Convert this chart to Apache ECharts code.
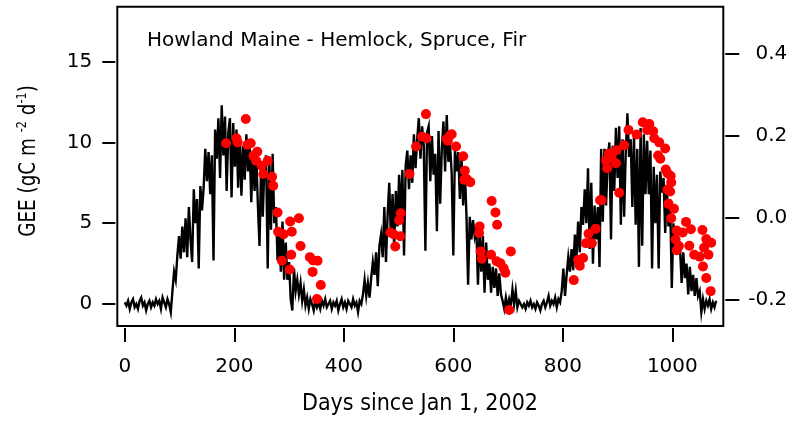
<!DOCTYPE html>
<html>
<head>
<meta charset="utf-8">
<script src="https://cdn.jsdelivr.net/npm/echarts@6/dist/echarts.min.js"></script>
<style>html,body{margin:0;padding:0;background:#fff}#c{width:792px;height:423px}</style>
</head>
<body>
<div id="c"></div>
<script>
// Daily GEE (gC m-2 d-1) as [day, value]
const geeDaily = [
[0,0.1],[3,-0.1],[6,0.2],[9,-0.3],[12,0.1],[15,0.3],[18,-0.2],[21,0.0],[24,-0.3],[27,0.2],[30,0.4],[33,-0.1],[36,0.1],[39,-0.4],[42,0.0],[45,0.2],[48,-0.2],[51,0.1],[54,-0.1],[57,0.3],[60,0.0],[63,0.2],[66,-0.3],[69,0.4],[72,0.1],[75,-0.2],[78,0.3],[81,0.0],[84,-0.5],
[87,0.8],[90,2.0],[93,1.5],[96,3.0],[99,4.2],[102,2.8],[105,4.8],[108,3.2],[111,5.3],[114,2.9],[117,6.0],[120,4.0],[123,2.6],[126,7.1],[129,5.0],[132,6.5],[135,2.2],[138,7.3],[141,5.8],[144,7.2],[147,9.6],[150,7.6],[153,9.4],[156,6.8],[159,9.2],[162,2.7],[165,10.8],[168,9.0],[171,11.5],[174,7.8],[177,12.3],[180,9.2],[183,11.6],[186,7.0],[189,10.6],[192,11.5],[195,6.6],[198,11.2],[201,8.5],[204,10.8],[207,7.2],[210,10.3],[213,6.7],[216,9.8],[219,7.7],[222,10.5],[225,8.2],[228,9.8],[231,6.3],[234,9.5],[237,7.0],[240,9.3],[243,6.2],[246,3.6],[249,8.7],[252,5.4],[255,8.6],[258,9.2],[261,2.2],[264,8.8],[267,4.6],[270,9.3],[273,5.0],[276,6.0],[279,2.7],[282,4.6],[285,2.0],[288,5.1],[291,1.5],[294,3.8],[297,1.5],[300,2.6],[303,0.3],[306,-0.4],[309,2.2],[312,0.8],[315,1.5],[318,0.6],[321,1.3],[324,0.2],[327,0.9],[330,-0.1],[333,0.4],[336,-0.3],[339,0.3],[342,0.0],[345,-0.4],[348,0.2],[351,-0.2],[354,0.1],[357,-0.3],[360,0.2],
[363,-0.1],[366,0.3],[369,-0.2],[372,0.0],[375,0.2],[378,-0.3],[381,0.1],[384,-0.1],[387,0.2],[390,-0.4],[393,0.0],[396,0.3],[399,-0.2],[402,0.1],[405,-0.3],[408,0.2],[411,0.0],[414,-0.2],[417,0.3],[420,-0.1],[423,0.1],[426,-0.5],[429,0.2],[432,0.0],
[435,0.6],[438,1.5],[441,0.5],[444,1.3],[447,0.4],[450,1.6],[453,2.6],[456,1.8],[459,3.2],[462,1.1],[465,3.6],[468,4.3],[471,2.9],[474,6.0],[477,2.6],[480,5.5],[483,7.5],[486,4.1],[489,6.8],[492,3.5],[495,7.0],[498,4.8],[501,8.0],[504,5.3],[507,8.3],[510,3.0],[513,8.6],[516,9.5],[519,7.1],[522,9.2],[525,7.5],[528,10.5],[531,8.4],[534,10.2],[537,11.5],[540,9.0],[543,11.0],[546,9.8],[549,3.3],[552,10.6],[555,11.0],[558,7.6],[561,10.4],[564,8.0],[567,9.3],[570,4.5],[573,10.7],[576,6.2],[579,9.6],[582,11.3],[585,8.2],[588,11.7],[591,8.8],[594,9.9],[597,8.1],[600,3.0],[603,9.6],[606,8.2],[609,9.4],[612,6.5],[615,9.0],[618,6.1],[621,8.3],[624,5.5],[627,1.2],[630,5.4],[633,4.0],[636,5.2],[639,4.2],[642,4.8],[645,1.2],[648,4.5],[651,2.0],[654,4.2],[657,0.7],[660,3.8],[663,1.5],[666,2.5],[669,0.7],[672,2.3],[675,1.0],[678,2.2],[681,0.5],[684,1.9],[687,0.6],[690,0.2],[693,-0.3],[696,0.4],[699,-0.2],[702,0.3],[705,-0.1],[708,0.9],[711,0.0],[714,0.8],[717,-0.2],[720,0.2],
[723,0.1],[726,-0.2],[729,0.0],[732,-0.3],[735,0.1],[738,-0.1],[741,0.2],[744,-0.2],[747,0.0],[750,-0.3],[753,0.1],[756,-0.1],[759,-0.4],[762,0.0],[765,0.2],[768,-0.2],[771,0.1],[774,0.5],[777,-0.1],[780,0.2],[783,0.0],[786,0.4],[789,-0.2],[792,0.3],[795,0.1],
[798,0.8],[801,2.2],[804,0.5],[807,1.8],[810,2.9],[813,2.0],[816,3.4],[819,2.1],[822,4.3],[825,2.9],[828,5.1],[831,3.2],[834,6.0],[837,4.9],[840,7.1],[843,5.0],[846,8.4],[849,3.4],[852,7.5],[855,2.5],[858,6.1],[861,4.0],[864,6.0],[867,2.3],[870,9.6],[873,5.1],[876,9.6],[879,6.1],[882,9.0],[885,10.0],[888,4.0],[891,9.8],[894,7.0],[897,10.9],[900,7.8],[903,11.0],[906,4.9],[909,10.2],[912,5.4],[915,9.5],[918,11.8],[921,9.1],[924,10.2],[927,6.0],[930,10.5],[933,4.9],[936,9.6],[939,2.3],[942,10.9],[945,3.6],[948,10.5],[951,6.8],[954,10.1],[957,6.8],[960,9.5],[963,2.2],[966,8.5],[969,5.0],[972,8.0],[975,2.2],[978,8.2],[981,6.9],[984,7.8],[987,4.4],[990,7.2],[993,4.8],[996,6.5],[999,1.0],[1002,5.0],[1005,3.1],[1008,4.8],[1011,3.3],[1014,3.5],[1017,1.3],[1020,3.2],[1023,1.6],[1026,2.5],[1029,0.6],[1032,2.3],[1035,0.8],[1038,1.8],[1041,0.5],[1044,1.6],[1047,0.5],[1050,0.8],[1053,-0.5],[1056,0.3],[1059,-0.3],[1062,0.2],[1065,-0.1],[1068,0.3],[1071,-0.3],[1074,0.1],[1077,-0.2],[1080,0.2]
];

// Red points on the right axis, [day, value]
const redPoints = [
[185,0.181],[204,0.193],[206,0.183],[221,0.240],[224,0.177],[230,0.181],[235,0.150],[242,0.160],[240,0.138],[250,0.126],[261,0.138],[253,0.106],[269,0.099],[271,0.077],[279,0.012],[280,-0.035],[290,-0.041],[302,-0.010],[318,-0.002],[305,-0.035],[321,-0.070],[304,-0.091],[287,-0.106],[301,-0.127],[338,-0.097],[344,-0.105],[352,-0.106],[343,-0.133],[358,-0.165],[351,-0.199],
[485,-0.037],[491,-0.041],[503,-0.046],[494,-0.071],[504,0.010],[501,-0.007],[520,0.106],[532,0.173],[543,0.197],[551,0.193],[550,0.252],[588,0.191],[594,0.200],[597,0.203],[590,0.187],[605,0.173],[618,0.149],[621,0.114],[620,0.092],[625,0.093],[631,0.086],[670,0.040],[677,0.012],[680,-0.018],[648,-0.022],[647,-0.038],[650,-0.083],[652,-0.101],[669,-0.091],[705,-0.083],[679,-0.107],[686,-0.112],[692,-0.124],[695,-0.135],[702,-0.226],
[820,-0.153],[828,-0.104],[831,-0.118],[837,-0.099],[842,-0.063],[847,-0.040],[853,-0.063],[860,-0.028],[868,0.042],[871,0.042],[881,0.120],[879,0.139],[884,0.156],[889,0.148],[897,0.132],[898,0.164],[903,0.060],[912,0.176],[920,0.213],[935,0.202],[946,0.232],[958,0.228],[954,0.213],[965,0.210],[967,0.193],[976,0.183],[987,0.168],[974,0.151],[978,0.143],[988,0.117],[991,0.108],[997,0.101],[998,0.085],[991,0.068],[996,0.063],[993,0.033],[1003,0.021],[998,-0.002],[1008,-0.032],[1019,-0.037],[1006,-0.054],[1012,-0.070],[1008,-0.080],[1025,-0.011],[1034,-0.029],[1031,-0.069],[1040,-0.091],[1050,-0.096],[1055,-0.031],[1062,-0.053],[1071,-0.062],[1058,-0.074],[1066,-0.091],[1056,-0.120],[1062,-0.148],[1070,-0.180]
];

const xTicks = [0, 200, 400, 600, 800, 1000];
const leftTicks = [0, 5, 10, 15];
const rightTicks = [-0.2, 0.0, 0.2, 0.4];
const titleText = 'Howland Maine - Hemlock, Spruce, Fir';
const xTitle = 'Days since Jan 1, 2002';

const FONT = 'DejaVu Sans';
const chart = echarts.init(document.getElementById('c'), null, {renderer: 'canvas'});
const tickStyle = {color: '#000', width: 2};
chart.setOption({
  animation: false,
  backgroundColor: '#fff',
  grid: {left: 117.3, right: 68.7, top: 6.7, bottom: 97, show: true, borderColor: '#000', borderWidth: 2, backgroundColor: 'transparent'},
  xAxis: {
    type: 'value', min: -13.7, max: 1093.1, offset: 2,
    axisLine: {show: false, onZero: false}, splitLine: {show: false},
    axisTick: {show: true, inside: false, length: 14, lineStyle: tickStyle, customValues: xTicks},
    axisLabel: {show: true, margin: 29, fontSize: 20, fontFamily: FONT, color: '#000', customValues: xTicks, formatter: v => String(v)}
  },
  yAxis: [
    {
      type: 'value', position: 'left', min: -1.36, max: 18.4, offset: 2,
      axisLine: {show: false, onZero: false}, splitLine: {show: false},
      axisTick: {show: true, inside: false, length: 13, lineStyle: tickStyle, customValues: leftTicks},
      axisLabel: {show: true, margin: 23, fontSize: 20, fontFamily: FONT, color: '#000', customValues: leftTicks, formatter: v => String(v)}
    },
    {
      type: 'value', position: 'right', min: -0.265, max: 0.514, offset: 2,
      axisLine: {show: false, onZero: false}, splitLine: {show: false},
      axisTick: {show: true, inside: false, length: 14, lineStyle: tickStyle, customValues: rightTicks},
      axisLabel: {show: true, margin: 62, align: 'right', fontSize: 20, fontFamily: FONT, color: '#000', customValues: rightTicks, formatter: v => v.toFixed(1)}
    }
  ],
  series: [
    {
      type: 'line', yAxisIndex: 0, data: geeDaily, showSymbol: false, symbol: 'none',
      lineStyle: {color: '#000', width: 2.4, join: 'miter'}, z: 2
    },
    {
      type: 'scatter', yAxisIndex: 1, data: redPoints, symbol: 'circle', symbolSize: 10,
      itemStyle: {color: '#ff0000', opacity: 1}, z: 3
    }
  ],
  graphic: [
    {type: 'text', x: 147, y: 41, z: 10, style: {text: titleText, fontSize: 20, fontFamily: FONT, fill: '#000', align: 'left', verticalAlign: 'middle'}},
    {type: 'text', x: 420, y: 404, scaleX: 0.9, z: 10, style: {text: xTitle, fontSize: 23, fontFamily: FONT, fill: '#000', align: 'center', verticalAlign: 'middle'}},
    {type: 'text', x: 28.7, y: 161, rotation: Math.PI / 2, scaleX: 0.8, z: 10, style: {
      text: 'GEE (gC m {sup|-2} d{sup|-1})', fontSize: 23, lineHeight: 26, fontFamily: FONT, fill: '#000', align: 'center', verticalAlign: 'middle',
      rich: {sup: {fontSize: 14, lineHeight: 14, fontFamily: FONT, fill: '#000', verticalAlign: 'top'}}
    }}
  ]
});
</script>
</body>
</html>
